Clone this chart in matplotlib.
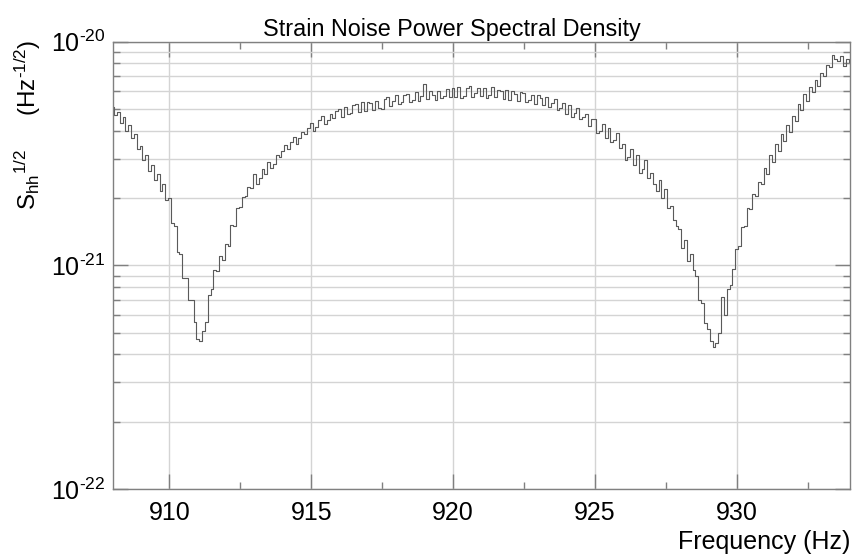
import numpy as np
import matplotlib
matplotlib.use("Agg")
import matplotlib.pyplot as plt
from matplotlib.ticker import FixedLocator, LogLocator, MultipleLocator, NullFormatter, FuncFormatter

plt.rcParams["font.family"] = ["Liberation Sans", "DejaVu Sans"]
plt.rcParams["mathtext.fontset"] = "custom"
plt.rcParams["mathtext.rm"] = "Liberation Sans"
plt.rcParams["mathtext.it"] = "Liberation Sans:italic"
plt.rcParams["mathtext.default"] = "regular"

# frequency bins (Hz)
f_start = 908.0
f_step = 0.1

# strain noise amplitude, units of 1e-21 Hz^-1/2, one value per bin
asd = [
    5.1, 4.7, 4.85, 4.35, 4.6, 4.0, 4.25, 3.7, 3.85, 3.3,        # 908
    3.4, 2.95, 3.1, 2.65, 2.8, 2.4, 2.55, 2.15, 2.3, 1.95,       # 909
    2.0, 1.55, 1.5, 1.15, 1.12, 0.88, 0.88, 0.7, 0.7, 0.56,      # 910
    0.47, 0.46, 0.51, 0.56, 0.74, 0.78, 0.95, 0.94, 1.1, 1.06,   # 911
    1.25, 1.22, 1.52, 1.5, 1.8, 1.82, 2.02, 2.05, 2.25, 2.22,    # 912
    2.55, 2.32, 2.45, 2.7, 2.55, 2.9, 2.72, 2.85, 3.1, 3.05,     # 913
    3.25, 3.45, 3.3, 3.55, 3.75, 3.5, 3.72, 3.95, 3.85, 4.1,     # 914
    4.35, 4.0, 4.15, 4.45, 4.65, 4.3, 4.45, 4.75, 4.55, 4.9,     # 915
    5.0, 4.6, 5.1, 4.75, 4.8, 5.2, 5.25, 4.85, 5.35, 4.9,        # 916
    5.4, 5.3, 4.95, 5.45, 5.05, 5.0, 5.55, 5.65, 5.15, 5.45,     # 917
    5.75, 5.25, 5.4, 5.8, 5.85, 5.4, 5.5, 5.95, 5.45, 5.7,       # 918
    6.5, 5.55, 6.0, 5.8, 5.5, 6.05, 5.6, 5.7, 6.15, 5.65,        # 919
    6.2, 5.65, 6.25, 5.6, 5.7, 6.2, 6.35, 5.65, 5.9, 6.2,        # 920
    5.7, 6.2, 5.6, 5.75, 6.25, 5.65, 6.1, 6.0, 5.55, 6.1,        # 921
    5.5, 6.0, 5.85, 5.45, 5.95, 5.9, 5.35, 5.5, 5.8, 5.25,       # 922
    5.75, 5.6, 5.2, 5.65, 5.1, 5.3, 5.55, 4.95, 5.05, 5.3,       # 923
    4.75, 5.2, 4.6, 4.8, 5.05, 4.5, 4.6, 4.75, 4.2, 4.5,         # 924
    4.5, 3.9, 4.0, 4.3, 3.7, 4.1, 3.55, 3.65, 3.9, 3.35,         # 925
    3.5, 2.95, 3.05, 3.3, 2.8, 3.1, 2.6, 2.7, 2.95, 2.45,        # 926
    2.6, 2.3, 2.15, 2.4, 2.0, 2.2, 1.8, 1.85, 1.6, 1.5,          # 927
    1.45, 1.2, 1.3, 1.05, 1.12, 0.95, 0.9, 0.7, 0.68, 0.55,      # 928
    0.52, 0.46, 0.43, 0.45, 0.5, 0.72, 0.6, 0.78, 0.82, 0.96,    # 929
    1.18, 1.22, 1.48, 1.5, 1.8, 1.78, 2.08, 2.05, 2.35, 2.3,     # 930
    2.72, 2.55, 3.1, 2.9, 3.5, 3.25, 3.85, 3.6, 4.25, 3.95,      # 931
    4.65, 4.4, 5.25, 4.95, 5.85, 5.45, 6.3, 5.95, 6.75, 6.35,    # 932
    7.25, 7.0, 7.9, 7.7, 8.7, 8.4, 8.2, 8.6, 7.8, 8.4,           # 933
    8.1,                                                         # 934
]

y_major = [1e-22, 1e-21, 1e-20]

freq = f_start + f_step * np.arange(len(asd))
vals = np.array(asd) * 1e-21


def pow10(v, pos):
    e = int(round(np.log10(v)))
    return "10$^{\u2010%d}$" % abs(e)


fig = plt.figure(figsize=(8.52, 5.57), dpi=100)
ax = fig.add_axes([0.1323, 0.1221, 0.8654, 0.803])

ax.step(freq, vals, where="mid", color="#5a5a5a", lw=0.8)

ax.set_yscale("log")
ax.set_xlim(908, 934)
ax.set_ylim(1e-22, 1e-20)

ax.xaxis.set_major_locator(MultipleLocator(5))
ax.xaxis.set_minor_locator(MultipleLocator(2.5))
ax.yaxis.set_major_locator(FixedLocator(y_major))
ax.yaxis.set_major_formatter(FuncFormatter(pow10))
ax.yaxis.set_minor_locator(LogLocator(base=10, subs=np.arange(2, 10)))
ax.yaxis.set_minor_formatter(NullFormatter())

ax.grid(True, which="major", axis="x", color="#d4d4d4", lw=1)
ax.grid(True, which="both", axis="y", color="#d4d4d4", lw=1)
ax.set_axisbelow(True)

ax.tick_params(which="both", direction="in", top=True, right=True,
               color="#808080", labelsize=18)
ax.tick_params(axis="x", pad=9)
ax.tick_params(axis="y", pad=5)
ax.tick_params(which="major", length=11, width=1)
ax.tick_params(which="minor", length=5, width=1)
for s in ax.spines.values():
    s.set_color("#808080")
    s.set_linewidth(1)

fig.text(452 / 852, 1 - 36 / 557, "Strain Noise Power Spectral Density",
         ha="center", va="baseline", fontsize=16.8)
fig.text(850 / 852, 1 - 549 / 557, "Frequency (Hz)",
         ha="right", va="baseline", fontsize=18)
fig.text(43 / 852, 1 - 125 / 557,
         "S$_{hh}$$^{1/2}$     (Hz$^{\u20101/2}$)",
         rotation=90, ha="right", va="center", fontsize=17.5)

fig.savefig("out.png", dpi=100)
